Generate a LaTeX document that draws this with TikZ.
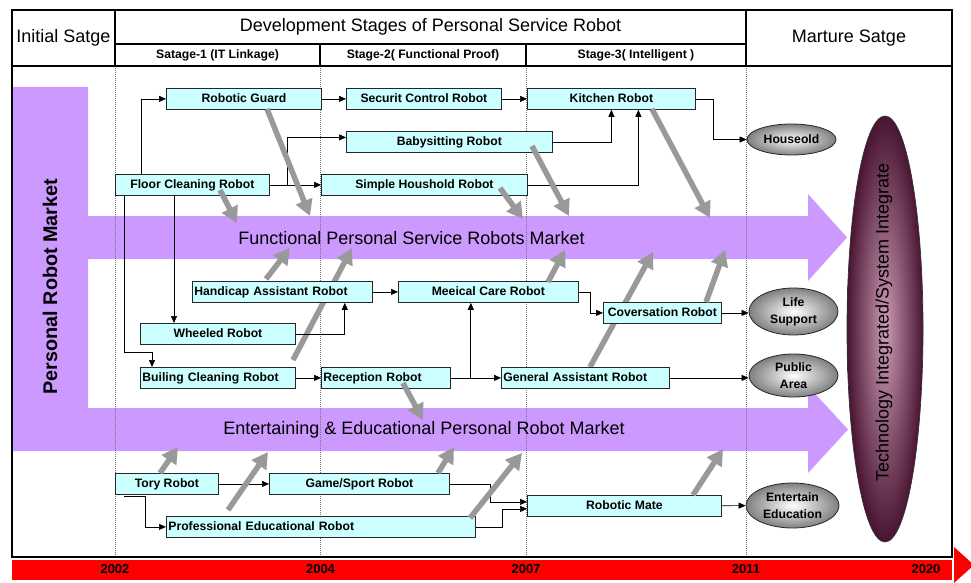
\documentclass[tikz,border=0pt]{standalone}
\usepackage{fontspec}
\setmainfont{Liberation Sans}
\usetikzlibrary{arrows.meta,shapes.geometric,calc}
\definecolor{cyanbox}{HTML}{CCFFFF}
\definecolor{lilac}{HTML}{CC99FF}
\definecolor{maroondark}{RGB}{72,20,50}
\definecolor{maroonlight}{RGB}{205,155,182}
\begin{document}
\begin{tikzpicture}[x=1pt,y=-1pt,
 boxfont/.style={font=\bfseries\fontsize{12.2}{14}\selectfont},
 rb/.style={draw=black!85, line width=0.8pt, fill=cyanbox, inner xsep=2pt, inner ysep=0pt, minimum height=21pt, text height=8.8pt, text depth=2.4pt, anchor=north west, boxfont},
 rbc/.style={rb, minimum width=#1},
 rbl/.style={rb, text width=#1, align=left},
 conn/.style={draw=black, line width=0.7pt, -{Triangle[length=7pt,width=6pt]}},
 bigarrow/.style={draw=black!40, line width=5.5pt, -{Triangle[length=16pt,width=17pt]}},
 dotline/.style={draw=black!55, line width=0.6pt, dash pattern=on 1pt off 1pt},
 ell/.style={ellipse, draw=black!85, line width=0.8pt, inner color=white, outer color=black!50, inner sep=0pt, align=center, font=\bfseries\fontsize{12.2}{17}\selectfont},
 hdr/.style={font=\fontsize{18}{20}\selectfont},
 sub/.style={font=\bfseries\fontsize{12.2}{14}\selectfont},
 yr/.style={font=\bfseries\fontsize{13}{15}\selectfont}
]
\useasboundingbox (0,0) rectangle (971,583);

% purple market shape
\fill[lilac] (12,87) -- (88,87) -- (88,216) -- (808,216) -- (808,194) -- (847,237.5) -- (808,281) -- (808,259) -- (88,259) -- (88,408) -- (808,408) -- (808,386) -- (848,429.5) -- (808,473) -- (808,451) -- (12,451) -- cycle;

% dotted column lines
\foreach \xx in {115,320,526,746} \draw[dotline] (\xx,66) -- (\xx,557);

% red time line
\fill[red] (12,560) rectangle (952,580);
\fill[red] (954,547) -- (974,565) -- (954,583) -- cycle;

% gray arrows passing behind boxes
\draw[bigarrow] (293,360) -- (352,248);
\draw[bigarrow] (590,367) -- (653,252);

% boxes
\node[rbc=155] (guard) at (166,88) {Robotic Guard};
\node[rbc=155] (sec) at (346,88) {Securit Control Robot};
\node[rbc=168] (kitchen) at (527,88) {Kitchen Robot};
\node[rbc=206] (baby) at (346,131) {Babysitting Robot};
\node[rbc=206] (simple) at (321,174) {Simple Houshold Robot};
\node[rbc=154] (floor) at (115,174) {Floor Cleaning Robot};
\node[rbl=176] (handi) at (192,281) {Handicap Assistant Robot};
\node[rbc=180] (medi) at (398,281) {Meeical Care Robot};
\node[rbc=118] (conv) at (603,302) {Coversation Robot};
\node[rbc=155] (wheel) at (140,323) {Wheeled Robot};
\node[rbl=151] (build) at (140,367) {Builing Cleaning Robot};
\node[rbl=125] (recep) at (321,367) {Reception Robot};
\node[rbl=164] (gen) at (501,367) {General Assistant Robot};
\node[rbc=103] (tory) at (115,473) {Tory Robot};
\node[rbc=180] (game) at (269,473) {Game/Sport Robot};
\node[rbl=305] (prof) at (166,516) {Professional Educational Robot};
\node[rbc=194] (mate) at (527,495) {Robotic Mate};

% outcome ellipses
\node[ell, minimum width=89pt, minimum height=31pt] (house) at (791.5,139.5) {Houseold};
\node[ell, minimum width=89pt, minimum height=47pt] (life) at (793.5,311.5) {Life\\Support};
\node[ell, minimum width=89pt, minimum height=43pt] (public) at (793.5,375.5) {Public\\Area};
\node[ell, minimum width=93pt, minimum height=45pt] (ent) at (792.5,505.5) {Entertain\\Education};

% tall integration ellipse
\node[ellipse, draw=black!80, line width=0.7pt, inner color=maroonlight, outer color=maroondark, minimum width=76pt, minimum height=426pt, inner sep=0pt] (tech) at (885,329) {};
\node[rotate=90, hdr] (techtxt) at (884,322.5) {Technology Integrated/System Integrate};

% connectors
\draw[conn] ([xshift=26]floor.north west) |- (guard.west);
\draw[conn] (guard) -- (sec);
\draw[conn] (sec) -- (kitchen);
\draw[conn] (floor) -- (simple);
\draw[conn] (floor.east) -- ++(18,0) |- ([yshift=4.5]baby.west);
\draw[conn] (baby.east) -| (kitchen.south);
\draw[conn] (simple.east) -| ([xshift=27]kitchen.south);
\draw[conn] (kitchen.east) -- ++(18,0) |- (house.west);
\draw[conn] ([xshift=9]floor.south west) |- ([xshift=12,yshift=15]build.north west) -- ([xshift=12]build.north west);
\draw[conn] ([xshift=59]floor.south west) -- ([xshift=59]floor.south west |- wheel.north);
\draw[conn] (wheel.east) -| ([xshift=-28]handi.south east);
\draw[conn] (handi) -- (medi);
\draw[conn] (build) -- (recep);
\draw[conn] (recep) -- (gen);
\draw[conn] ([xshift=20]recep.east) -- ([xshift=20]recep.east |- medi.south);
\draw[conn] (medi.east) -- ++(12,0) |- (conv.west);
\draw[conn] (conv.east) -- (conv.east -| life.west);
\draw[conn] (gen.east) -- (gen.east -| public.west);
\draw[conn] (tory) -- (game);
\draw[conn] ([xshift=9,yshift=-2]tory.south west) -- ++(21,0) |- (prof.west);
\draw[conn] (game.east) -- ++(41,0) |- ([yshift=4]mate.west);
\draw[conn] (prof.east) -- ++(27,0) |- ([yshift=-3]mate.west);
\draw[conn] (mate) -- (ent);

% gray arrows on top
\draw[bigarrow] (267,109) -- (310,216);
\draw[bigarrow] (220,190) -- (237,223);
\draw[bigarrow] (500,188) -- (523,219);
\draw[bigarrow] (532,146) -- (569,216);
\draw[bigarrow] (652,109) -- (710,218);
\draw[bigarrow] (266,279) -- (290,248);
\draw[bigarrow] (548,282) -- (565,250);
\draw[bigarrow] (706,302) -- (725,250);
\draw[bigarrow] (403,383) -- (423,420);
\draw[bigarrow] (160,473) -- (178,447);
\draw[bigarrow] (228,510) -- (268,452);
\draw[bigarrow] (438,473) -- (454,447);
\draw[bigarrow] (470,518) -- (522,453);
\draw[bigarrow] (693,495) -- (723,449);

% band labels
\node[rotate=90, font=\bfseries\fontsize{19.8}{22}\selectfont] (pm) at (50,286.5) {Personal Robot Market};
\node[hdr] (b1) at (411.5,238) {Functional Personal Service Robots Market};
\node[hdr] (b2) at (424,430) {Entertaining \& Educational Personal Robot Market};

% frame and header
\draw[line width=1.6pt] (12,10) rectangle (952,557);
\draw[line width=1.3pt] (12,66) -- (952,66) (115,10) -- (115,66) (746,10) -- (746,66) (115,44) -- (746,44) (320,44) -- (320,66) (526,44) -- (526,66);
\node[hdr] (h1) at (63.5,38) {Initial Satge};
\node[hdr] (h2) at (430.5,27) {Development Stages of Personal Service Robot};
\node[sub] (s1) at (217.5,55) {Satage-1 (IT Linkage)};
\node[sub] (s2) at (423,55) {Stage-2( Functional Proof)};
\node[sub] (s3) at (636,55) {Stage-3( Intelligent )};
\node[hdr] (h3) at (849,38) {Marture Satge};

% years
\node[yr] (y1) at (115,569.5) {2002};
\node[yr] (y2) at (320.5,569.5) {2004};
\node[yr] (y3) at (526,569.5) {2007};
\node[yr] (y4) at (746,569.5) {2011};
\node[yr] (y5) at (926,569.5) {2020};
\end{tikzpicture}
\end{document}
